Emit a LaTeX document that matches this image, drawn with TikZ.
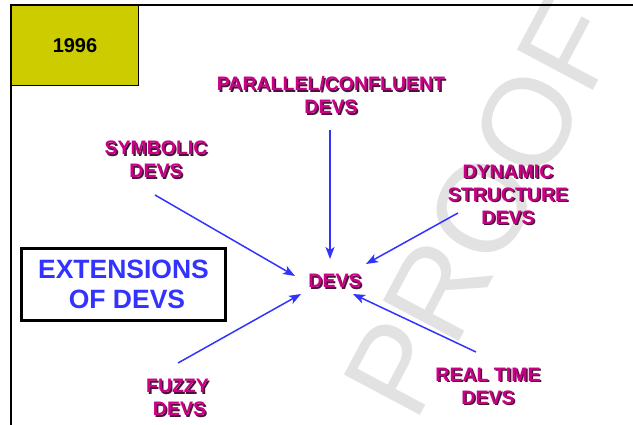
\documentclass[tikz,border=0pt]{standalone}
\usepackage{fontspec}
\setmainfont{Liberation Sans}
\usetikzlibrary{arrows.meta}
\definecolor{pinkc}{RGB}{204,0,136}
\definecolor{shc}{RGB}{70,20,55}
\definecolor{bluec}{RGB}{51,51,255}
\definecolor{yelc}{RGB}{204,204,0}
\definecolor{wmc}{RGB}{226,226,226}
\newcommand\shd[1]{\rlap{\kern1.5pt\raisebox{-1.5pt}{\textcolor{shc}{#1}}}#1}
\tikzset{
  lbl/.style={align=center, text=pinkc, inner sep=0pt,
    font=\fontsize{19.5}{23}\selectfont\bfseries},
  arr/.style={draw=bluec, line width=1.5pt,
    -{Stealth[length=12pt,width=9pt,inset=3pt]}},
}
\begin{document}
\begin{tikzpicture}[x=1pt,y=-1pt]
\useasboundingbox (0,0) rectangle (633,425);
% watermark
\node (wm) [rotate=62, text=wmc, inner sep=0pt,
  font=\fontsize{125}{125}\selectfont] at (482,208) {PROOF};
% frame
\draw[line width=1.3pt] (11,430) -- (11,5) -- (640,5);
% year box
\node (year) [draw=black, line width=1pt, fill=yelc, minimum width=127pt,
  minimum height=80pt, anchor=north west, inner sep=0pt,
  font=\fontsize{20}{24}\selectfont\bfseries] at (11,5) {1996};
% title box
\node (title) [draw=black, line width=3pt, minimum width=204pt,
  minimum height=72pt, inner sep=0pt, align=center, text=bluec,
  font=\fontsize{26.5}{30}\selectfont\bfseries] at (123.5,284.5)
  {EXTENSIONS\\\hspace*{7pt}OF DEVS};
% labels
\node (devs) [lbl] at (335,282) {\shd{DEVS}};
\node (par) [lbl] at (331,96) {\shd{PARALLEL/CONFLUENT}\\\shd{DEVS}};
\node (sym) [lbl] at (156,160.5) {\shd{SYMBOLIC}\\\shd{DEVS}};
\node (dyn) [lbl] at (508,195.5) {\shd{DYNAMIC}\\\shd{STRUCTURE}\\\shd{DEVS}};
\node (fuz) [lbl] at (177.5,398.5) {\shd{FUZZY}\\\hspace*{4pt}\shd{DEVS}};
\node (rt) [lbl] at (488,387) {\shd{REAL TIME}\\\shd{DEVS}};
% arrow end points
\coordinate (parS) at (330,130);
\coordinate (parE) at (330,259);
\coordinate (symS) at (155,195);
\coordinate (symE) at (295,276);
\coordinate (dynS) at (458,213);
\coordinate (dynE) at (366,264);
\coordinate (fuzS) at (178,363);
\coordinate (fuzE) at (301,294);
\coordinate (rtS) at (476,352);
\coordinate (rtE) at (353,294);
\draw[arr] (parS) -- (parE);
\draw[arr] (symS) -- (symE);
\draw[arr] (dynS) -- (dynE);
\draw[arr] (fuzS) -- (fuzE);
\draw[arr] (rtS) -- (rtE);
\end{tikzpicture}
\end{document}
